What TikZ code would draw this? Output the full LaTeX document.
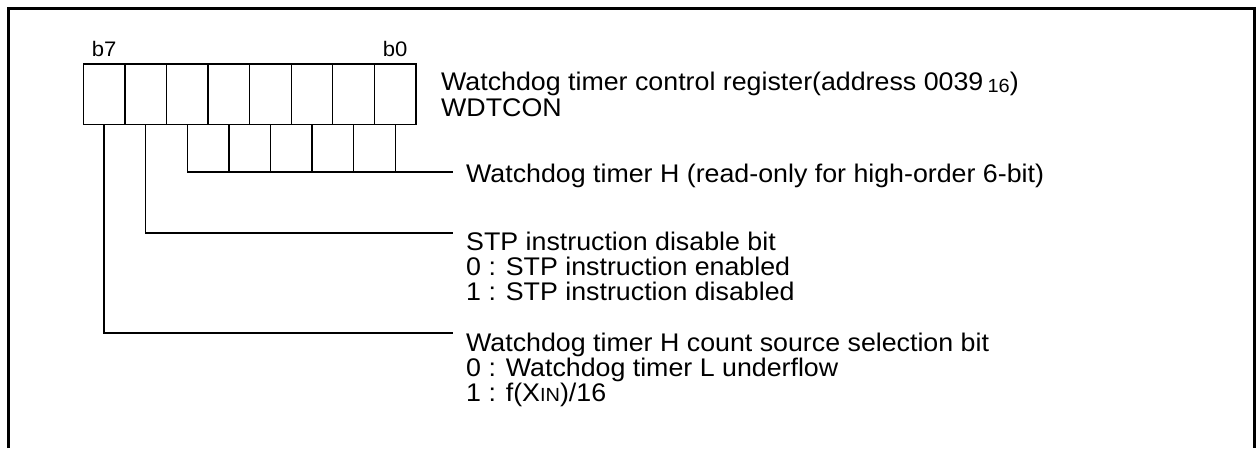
\documentclass[tikz,border=0pt]{standalone}
\usepackage{fontspec}
\setmainfont{Liberation Sans}[FakeStretch=1.05]
\begin{document}
\begin{tikzpicture}[x=1pt,y=-1pt,
  cell/.style={draw, line width=1.3pt, minimum width=41.575pt, minimum height=60.7pt, inner sep=0pt, anchor=north west},
  conn/.style={line width=1.3pt},
  lbl/.style={inner sep=0pt, anchor=base west, font=\fontsize{25.5}{25}\selectfont},
  bitlbl/.style={inner sep=0pt, anchor=base, font=\fontsize{21}{21}\selectfont},
  frame/.style={line width=2.4pt}]
\useasboundingbox (0,0) rectangle (1256,448);
% outer frame (open at the bottom)
\draw[frame] (8.5,448) -- (8.5,8.5) -- (1254.5,8.5) -- (1254.5,448);
% register cells b7..b0
\foreach \i in {7,...,0} {
  \node[cell] (c\i) at ({82.7+(7-\i)*41.575},63.3) {};
}
\node[bitlbl] (b7) at (c7.north |- 0,56) {b7};
\node[bitlbl] (b0) at (c0.north |- 0,56) {b0};
% texts
\node[lbl] (title) at (441,90.5) {Watchdog timer control register(address 0039\,\raisebox{-1.5pt}{\fontsize{19}{19}\selectfont 16})};
\node[lbl] (name) at (441,116.5) {WDTCON};
\node[lbl] (tH) at (466,182) {Watchdog timer H (read-only for high-order 6-bit)};
\node[lbl] (stp) at (466,250) {STP instruction disable bit};
\node[lbl] (stp0) at (466,275) {0 : STP instruction enabled};
\node[lbl] (stp1) at (466,300) {1 : STP instruction disabled};
\node[lbl] (cs) at (466,351) {Watchdog timer H count source selection bit};
\node[lbl] (cs0) at (466,376) {0 : Watchdog timer L underflow};
\node[lbl] (cs1) at (466,401) {1 : f(X{\fontsize{19}{19}\selectfont IN})/16};
% connector ends
\coordinate (eH) at (453,172);
\coordinate (eS) at (453,233);
\coordinate (eC) at (453,333);
% connectors
\draw[conn] (c5.south) |- (eH);
\foreach \i in {4,...,0} {
  \draw[conn] (c\i.south) -- (c\i.south |- eH);
}
\draw[conn] (c6.south) |- (eS);
\draw[conn] (c7.south) |- (eC);
\end{tikzpicture}
\end{document}
